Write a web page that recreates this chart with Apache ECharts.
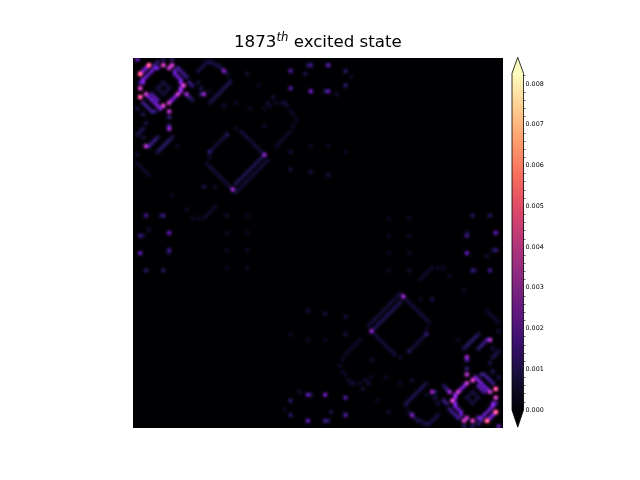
<!DOCTYPE html>
<html><head><meta charset="utf-8">
<style>
html,body{margin:0;padding:0;background:#fff;width:640px;height:480px;overflow:hidden}
#main{position:absolute;left:0;top:0;width:640px;height:480px}
#wrap{position:absolute;left:133px;top:58px;width:370px;height:370px;overflow:hidden;background:#000004}
#heat{position:absolute;left:0;top:0;width:370px;height:370px;filter:blur(1.8px) brightness(2.6)}
</style>
<script src="https://cdn.jsdelivr.net/npm/echarts@6/dist/echarts.min.js"></script>
</head><body>
<div id="main"></div>
<div id="wrap"><div id="heat"></div></div>
<script>
const gridSize = 128;
const valueUnit = 1e-4;
const vmax = 0.00826;
const magma = ['#000004','#140e36','#3b0f70','#641a80','#8c2981','#b73779','#de4968','#f7705c','#fe9f6d','#fecf92','#fcfdbf'];
const majorTicks = [0,0.001,0.002,0.003,0.004,0.005,0.006,0.007,0.008];
const minorTicks = [0.0002,0.0004,0.0006,0.0008,0.0012,0.0014,0.0016,0.0018,0.0022,0.0024,0.0026,0.0028,0.0032,0.0034,0.0036,0.0038,0.0042,0.0044,0.0046,0.0048,0.0052,0.0054,0.0056,0.0058,0.0062,0.0064,0.0066,0.0068,0.0072,0.0074,0.0076,0.0078,0.0082];
// [column, row, value in valueUnit]
const ringTopLeft = [[5,2,46],[2,5,46],[10,2,33],[13,2,31],[12,3,28],[2,10,33],[2,13,42],[4,12,30],[17,9,33],[15,12,30],[18,12,24],[12,15,30],[10,16,33],[12,18,28],
[3,4,18],[4,3,18],[1,0,18],[10,0,9],[13,0,9],[7,2,10],[8,1,9],[3,7,18],[3,8,18],[2,8,12],[4,6,16],[5,5,14],[6,4,16],[7,3,14],[8,3,16],[15,3,12],[16,4,11],[17,5,11],[18,6,10],[19,8,10],[20,9,10],[14,4,14],[14,5,16],[15,6,16],[16,7,16],[16,8,18],[16,10,20],[16,11,20],[14,13,18],[13,14,18],[8,14,14],[7,13,14],[6,12,12],[5,13,16],[6,14,16],[7,15,16],[8,16,18],[9,17,18],[3,15,11],[4,16,11],[5,17,11],[6,18,10],[7,18,10],[12,20,10],[3,19,7],[1,17,6],[19,13,10],[20,14,7],
[8,10,5],[10,8,5],[12,10,5],[10,12,5],[9,9,4],[11,9,4],[9,11,4],[11,11,4]];
const ringBottomRight = [[122,125,46],[125,122,46],[117,125,33],[114,125,31],[115,124,28],[125,117,33],[125,114,42],[123,115,30],[110,118,33],[112,115,30],[109,115,24],[115,112,30],[117,111,33],[115,109,28],
[124,123,18],[123,124,18],[126,127,18],[117,127,9],[114,127,9],[120,125,10],[119,126,9],[124,120,18],[124,119,18],[125,119,12],[123,121,16],[122,122,14],[121,123,16],[120,124,14],[119,124,16],[112,124,12],[111,123,11],[110,122,11],[109,121,10],[108,119,10],[107,118,10],[113,123,14],[113,122,16],[112,121,16],[111,120,16],[111,119,18],[111,117,20],[111,116,20],[113,114,18],[114,113,18],[119,113,14],[120,114,14],[121,115,12],[122,114,16],[121,113,16],[120,112,16],[119,111,18],[118,110,18],[124,112,11],[123,111,11],[122,110,11],[121,109,10],[120,109,10],[115,107,10],[124,108,7],[126,110,6],[108,114,10],[107,113,7],
[119,117,5],[117,119,5],[115,117,5],[117,115,5],[118,118,4],[116,118,4],[118,116,4],[116,116,4]];
const sideTopLeft = [[24,12,24],[23,12,8],[22,4,5],[23,3,5],[24,2,5],[25,1,5],[26,1,5],[27,1,5],[28,2,5],[29,2,5],[30,3,6],[31,4,20],[32,5,4],[33,7,3],
[27,14,6],[28,13,6],[29,12,6],[30,11,6],[31,10,6],[32,9,6],[33,8,6],[26,15,4],[39,5,4],[22,8,5],[23,10,6],[26,11,3],
[12,24,24],[12,23,12],[4,30,28],[4,22,6],[3,24,6],[2,25,6],[1,26,5],[13,27,6],[12,28,8],[11,29,8],[10,30,8],[9,31,8],[8,32,6],[8,27,8],[7,28,10],[6,29,10],[5,30,12],[1,33,4],[1,36,3],[2,37,3],[3,38,3],[4,39,3],[5,40,3],[3,27,5],[15,30,3]];
const sideBottomRight = [[103,115,24],[104,115,8],[105,123,5],[104,124,5],[103,125,5],[102,126,5],[101,126,5],[100,126,5],[99,125,5],[98,125,5],[97,124,6],[96,123,20],[95,122,4],[94,120,3],
[100,113,6],[99,114,6],[98,115,6],[97,116,6],[96,117,6],[95,118,6],[94,119,6],[101,112,4],[88,122,4],[105,119,5],[104,117,6],[101,116,3],
[115,103,24],[115,104,12],[123,97,28],[123,105,6],[124,103,6],[125,102,6],[126,101,5],[114,100,6],[115,99,8],[116,98,8],[117,97,8],[118,96,8],[119,95,6],[119,100,8],[120,99,10],[121,98,10],[122,97,12],[126,94,4],[126,91,3],[125,90,3],[124,89,3],[123,88,3],[122,87,3],[124,100,5],[112,97,3]];
const diamondUpper = [[45,33,22],[34,45,24],[32,26,8],[37,25,5],[26,32,10],[31,27,4],[30,28,4],[29,29,4],[28,30,4],[27,31,4],[38,26,4],[39,27,4],[40,28,4],[41,29,4],[42,30,4],[43,31,4],[44,32,4],[35,24,3],
[26,34,3],[25,36,3],[26,37,4],[27,38,4],[28,39,4],[29,40,4],[30,41,4],[31,42,4],[32,43,4],[33,44,4],
[44,34,6],[43,35,6],[42,36,6],[41,37,6],[40,38,6],[39,39,6],[38,40,6],[37,41,6],[36,42,6],[35,43,6],
[46,35,4],[45,36,4],[44,37,4],[43,38,4],[42,39,4],[41,40,4],[40,41,4],[39,42,4],[38,43,4],[37,44,4],[36,45,4],[35,46,4],
[45,17,3],[47,16,3],[49,15,3],[51,15,3],[53,16,3],[54,18,3],[55,19,3],[56,21,3],[55,23,3],[54,25,3],[53,26,3],[52,27,3],[51,28,3],[50,29,3],[49,30,3],[45,23,4],
[54,32,5],[61,30,3],[67,30,3],[73,32,3],[54,38,5],[61,39,5],[67,40,5],[24,44,6],[28,44,3],
[28,51,3],[27,52,3],[26,53,3],[25,54,3],[24,55,3],[22,55,3],[20,55,3],[32,54,4],[39,54,3],[31,16,4],[35,15,3],[40,17,3]];
const diamondLower = [[82,94,22],[93,82,24],[95,101,8],[90,102,5],[101,95,10],[96,100,4],[97,99,4],[98,98,4],[99,97,4],[100,96,4],[89,101,4],[88,100,4],[87,99,4],[86,98,4],[85,97,4],[84,96,4],[83,95,4],[92,103,3],
[101,93,3],[102,91,3],[101,90,4],[100,89,4],[99,88,4],[98,87,4],[97,86,4],[96,85,4],[95,84,4],[94,83,4],
[83,93,6],[84,92,6],[85,91,6],[86,90,6],[87,89,6],[88,88,6],[89,87,6],[90,86,6],[91,85,6],[92,84,6],
[81,92,4],[82,91,4],[83,90,4],[84,89,4],[85,88,4],[86,87,4],[87,86,4],[88,85,4],[89,84,4],[90,83,4],[91,82,4],[92,81,4],
[82,110,3],[80,111,3],[78,112,3],[76,112,3],[74,111,3],[73,109,3],[72,108,3],[71,106,3],[72,104,3],[73,102,3],[74,101,3],[75,100,3],[76,99,3],[77,98,3],[78,97,3],[82,104,4],
[73,95,5],[66,97,3],[60,97,3],[54,95,3],[73,89,5],[66,88,5],[60,87,5],[103,83,6],[99,83,3],
[99,76,3],[100,75,3],[101,74,3],[102,73,3],[103,72,3],[105,72,3],[107,72,3],[95,73,4],[88,73,3],[96,111,4],[92,112,3],[87,110,3]];
const topMiddle = [[54,4,14],[54,10,14],[61,2,12],[60,2,7],[67,2,16],[73,4,9],[61,11,18],[67,11,16],[66,11,7],[73,9,9],[59,5,6],[43,9,3],[48,13,4],[46,15,4],[52,15,4],[70,12,4],[75,6,3]];
const bottomMiddle = [[73,123,14],[73,117,14],[66,125,12],[67,125,7],[60,125,16],[54,123,9],[66,116,18],[60,116,16],[61,116,7],[54,118,9],[68,122,6],[84,118,3],[79,114,4],[81,112,4],[75,112,4],[57,115,4],[52,121,3]];
const leftMiddle = [[4,54,12],[10,54,11],[9,54,5],[2,61,11],[3,61,5],[12,60,16],[2,67,16],[12,66,12],[12,67,5],[4,73,9],[10,73,8],[5,59,4],[13,47,3],[18,52,3],[32,60,3],[39,60,3],[32,66,3],[39,66,3],[32,72,3],[39,72,3]];
const rightMiddle = [[123,73,12],[117,73,11],[118,73,5],[125,66,11],[124,66,5],[115,67,16],[125,60,16],[115,61,12],[115,60,5],[123,54,9],[117,54,8],[122,68,4],[114,80,3],[109,75,3],[95,67,3],[88,67,3],[95,61,3],[88,61,3],[95,55,3],[88,55,3]];

const cells = [].concat(ringTopLeft,ringBottomRight,sideTopLeft,sideBottomRight,diamondUpper,diamondLower,topMiddle,bottomMiddle,leftMiddle,rightMiddle)
  .map(d=>[d[0],d[1],d[2]*valueUnit]);
const indices = Array.from({length:gridSize},(_,i)=>i);

const heat = echarts.init(document.getElementById('heat'),null,{renderer:'canvas'});
heat.setOption({
  animation:false, backgroundColor:'#000001',
  grid:{left:0,right:0,top:0,bottom:0},
  xAxis:{type:'category',data:indices,show:false},
  yAxis:{type:'category',data:indices,show:false,inverse:true},
  visualMap:{show:false,min:0,max:vmax,inRange:{color:magma}},
  series:[{type:'heatmap',data:cells,progressive:0,itemStyle:{borderWidth:0}}]
});

const main = echarts.init(document.getElementById('main'),null,{renderer:'canvas'});
const font = 'DejaVu Sans';
const extendTop = 0.00865, extendBottom = -0.00042;
main.setOption({
  animation:false, backgroundColor:'#fff',
  title:{left:234,top:32,padding:0,text:'{a|1873}{b|th}{a| excited state}',
    textStyle:{fontWeight:'normal',rich:{
      a:{fontFamily:font,fontSize:16.67,fontWeight:'normal',color:'#000',lineHeight:22},
      b:{fontFamily:font,fontSize:11.7,fontStyle:'italic',fontWeight:'normal',color:'#000',lineHeight:22,padding:[0,0,10,0]}
    }}},
  grid:{left:512,top:73.3,width:11.5,height:336.7},
  xAxis:{type:'value',min:0,max:1,show:false},
  yAxis:[
   {type:'value',position:'right',min:0,max:vmax,splitLine:{show:false},
    axisLine:{show:false},
    axisTick:{show:true,length:3.5,customValues:majorTicks,lineStyle:{color:'#000',width:0.8}},
    axisLabel:{customValues:majorTicks,formatter:v=>v.toFixed(3),fontFamily:font,fontSize:6.4,color:'#000',margin:2}},
   {type:'value',position:'right',min:0,max:vmax,splitLine:{show:false},
    axisLine:{show:false},
    axisTick:{show:true,length:2,customValues:minorTicks,lineStyle:{color:'#000',width:0.6}},
    axisLabel:{show:false}}
  ],
  series:[{type:'custom',coordinateSystem:'cartesian2d',clip:false,silent:true,
    data:[[0,0]],
    renderItem:(p,api)=>{
      const L=api.coord([0,0])[0], R=api.coord([1,0])[0], M=(L+R)/2;
      const yb=api.coord([0,0])[1], yt=api.coord([0,vmax])[1];
      const tipT=api.coord([0,extendTop])[1], tipB=api.coord([0,extendBottom])[1];
      return {type:'group',children:[
        {type:'polygon',shape:{points:[[L,yt],[R,yt],[R,yb],[L,yb]]},
         style:{fill:new echarts.graphic.LinearGradient(0,0,0,1,magma.map((c,i)=>({offset:1-i/(magma.length-1),color:c})).reverse())}},
        {type:'polygon',shape:{points:[[L,yt],[M,tipT],[R,yt]]},style:{fill:magma[magma.length-1]}},
        {type:'polygon',shape:{points:[[L,yb],[M,tipB],[R,yb]]},style:{fill:magma[0]}},
        {type:'polygon',shape:{points:[[L,yt],[M,tipT],[R,yt],[R,yb],[M,tipB],[L,yb]]},
         style:{fill:'none',stroke:'#000',lineWidth:0.8}}
      ]};
    }}]
});
</script>
</body></html>
